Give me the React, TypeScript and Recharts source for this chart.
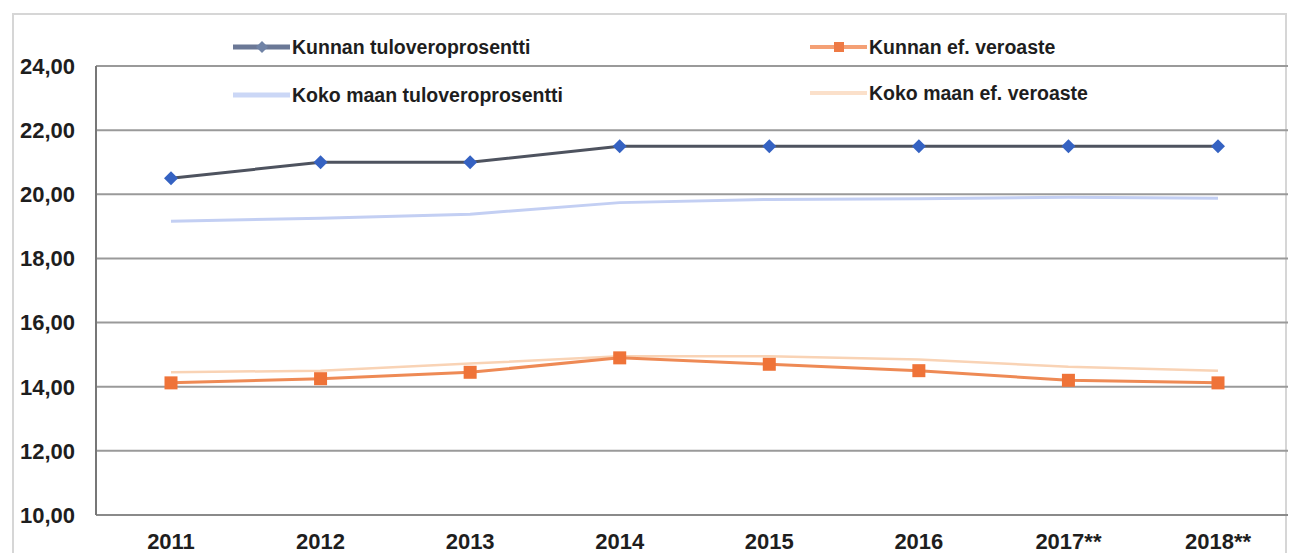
import React from 'react';
import { LineChart, Line, XAxis, YAxis, CartesianGrid } from 'recharts';

const years = ['2011', '2012', '2013', '2014', '2015', '2016', '2017**', '2018**'];
const kunnanTulovero = [20.5, 21.0, 21.0, 21.5, 21.5, 21.5, 21.5, 21.5];
const kokoMaanTulovero = [19.16, 19.25, 19.38, 19.74, 19.84, 19.86, 19.91, 19.88];
const kunnanEfVeroaste = [14.12, 14.25, 14.45, 14.9, 14.7, 14.5, 14.2, 14.12];
const kokoMaanEfVeroaste = [14.45, 14.5, 14.72, 14.95, 14.95, 14.85, 14.62, 14.5];
const yTicks = [10, 12, 14, 16, 18, 20, 22, 24];

const data = years.map((year, i) => ({
  year,
  kunnanTulovero: kunnanTulovero[i],
  kokoMaanTulovero: kokoMaanTulovero[i],
  kunnanEfVeroaste: kunnanEfVeroaste[i],
  kokoMaanEfVeroaste: kokoMaanEfVeroaste[i],
}));

const FONT = '"Liberation Sans", Arial, sans-serif';

const Diamond = ({ cx, cy }: any) => {
  if (cx == null || cy == null) return null;
  const r = 7;
  return <path d={`M${cx},${cy - r}L${cx + r},${cy}L${cx},${cy + r}L${cx - r},${cy}Z`} fill="#3562c2" />;
};

const Square = ({ cx, cy }: any) => {
  if (cx == null || cy == null) return null;
  const r = 6.5;
  return <rect x={cx - r} y={cy - r} width={r * 2} height={r * 2} fill="#ef7338" />;
};

const legendItems = [
  { name: 'Kunnan tuloveroprosentti', x: 233, y: 47, line: '#6b7896', width: 5, marker: 'diamond', markerFill: '#7083a6' },
  { name: 'Kunnan ef. veroaste', x: 810, y: 47, line: '#f4a075', width: 4, marker: 'square', markerFill: '#ee7a45' },
  { name: 'Koko maan tuloveroprosentti', x: 233, y: 95, line: '#cbd7f6', width: 5, marker: null, markerFill: '' },
  { name: 'Koko maan ef. veroaste', x: 810, y: 93, line: '#fbe0ca', width: 4, marker: null, markerFill: '' },
];

const ChartLegend = () => (
  <svg width={1290} height={120} style={{ position: 'absolute', left: 0, top: 0 }}>
    {legendItems.map(item => (
      <g key={item.name}>
        <line x1={item.x} x2={item.x + 57} y1={item.y} y2={item.y} stroke={item.line} strokeWidth={item.width} />
        {item.marker === 'diamond' && (
          <path
            d={`M${item.x + 29},${item.y - 6}L${item.x + 35},${item.y}L${item.x + 29},${item.y + 6}L${item.x + 23},${item.y}Z`}
            fill={item.markerFill}
          />
        )}
        {item.marker === 'square' && (
          <rect x={item.x + 24} y={item.y - 5} width={10} height={10} fill={item.markerFill} />
        )}
        <text
          x={item.x + 59}
          y={item.y}
          dy="0.35em"
          fontFamily={FONT}
          fontWeight="bold"
          fontSize={19.5}
          fill="#1e1e1e"
        >
          {item.name}
        </text>
      </g>
    ))}
  </svg>
);

export default function App() {
  return (
    <div style={{ position: 'absolute', left: 0, top: 0, width: 1290, height: 553, background: '#fff', overflow: 'hidden' }}>
      <div
        style={{
          position: 'absolute',
          left: 12,
          top: 13,
          width: 1275,
          height: 560,
          border: '2px solid #d6d6d6',
          boxSizing: 'border-box',
        }}
      />
      <LineChart
        width={1290}
        height={553}
        data={data}
        margin={{ top: 66, right: 2, left: 0, bottom: 0 }}
        style={{ position: 'absolute', left: 0, top: 0 }}
      >
        <CartesianGrid vertical={false} stroke="#9a9a9a" strokeWidth={2} />
        <XAxis
          dataKey="year"
          height={38}
          padding={{ left: 75, right: 70 }}
          axisLine={{ stroke: '#8a8a8a', strokeWidth: 2 }}
          tickLine={false}
          tickSize={6}
          tickMargin={12}
          tick={{ fill: '#1e1e1e', fontFamily: FONT, fontWeight: 'bold', fontSize: 22 }}
        />
        <YAxis
          width={96}
          domain={[10, 24]}
          ticks={yTicks}
          interval={0}
          axisLine={{ stroke: '#777', strokeWidth: 2 }}
          tickLine={false}
          tickSize={0}
          tickMargin={21}
          tickFormatter={(v: number) => v.toFixed(2).replace('.', ',')}
          tick={{ fill: '#1e1e1e', fontFamily: FONT, fontWeight: 'bold', fontSize: 22 }}
        />
        <Line
          dataKey="kokoMaanTulovero"
          name="Koko maan tuloveroprosentti"
          stroke="#c3cff3"
          strokeWidth={3}
          dot={false}
          activeDot={false}
          isAnimationActive={false}
        />
        <Line
          dataKey="kokoMaanEfVeroaste"
          name="Koko maan ef. veroaste"
          stroke="#f9d3b5"
          strokeWidth={2.5}
          dot={false}
          activeDot={false}
          isAnimationActive={false}
        />
        <Line
          dataKey="kunnanTulovero"
          name="Kunnan tuloveroprosentti"
          stroke="#4e535f"
          strokeWidth={3}
          dot={<Diamond />}
          activeDot={false}
          isAnimationActive={false}
        />
        <Line
          dataKey="kunnanEfVeroaste"
          name="Kunnan ef. veroaste"
          stroke="#ee8a55"
          strokeWidth={3}
          dot={<Square />}
          activeDot={false}
          isAnimationActive={false}
        />
      </LineChart>
      <ChartLegend />
    </div>
  );
}
